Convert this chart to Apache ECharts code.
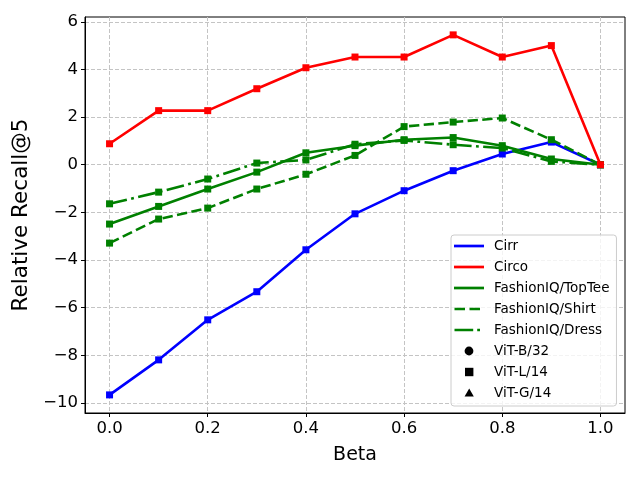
<!DOCTYPE html>
<html>
<head>
<meta charset="utf-8">
<script src="https://cdn.jsdelivr.net/npm/echarts@6/dist/echarts.min.js"></script>
<style>html,body{margin:0;padding:0;background:#fff}#c{width:640px;height:480px}</style>
</head>
<body>
<div id="c"></div>
<script>
const beta = [0.0, 0.1, 0.2, 0.3, 0.4, 0.5, 0.6, 0.7, 0.8, 0.9, 1.0];
const cirr = [-9.66, -8.19, -6.51, -5.33, -3.57, -2.06, -1.09, -0.25, 0.45, 0.95, 0.0];
const circo = [0.88, 2.27, 2.27, 3.19, 4.07, 4.52, 4.52, 5.45, 4.52, 5.0, 0.0];
const topTee = [-2.49, -1.75, -1.02, -0.31, 0.50, 0.80, 1.05, 1.14, 0.80, 0.24, 0.0];
const shirt = [-3.29, -2.28, -1.82, -1.02, -0.40, 0.39, 1.60, 1.79, 1.96, 1.05, 0.0];
const dress = [-1.64, -1.15, -0.60, 0.07, 0.20, 0.86, 1.02, 0.84, 0.70, 0.14, 0.0];
const xTicks = [0.0, 0.2, 0.4, 0.6, 0.8, 1.0];
const yTicks = [-10, -8, -6, -4, -2, 0, 2, 4, 6];

const FONT = 'DejaVu Sans';
const pair = arr => beta.map((b, i) => [b, arr[i]]);
const mkLine = (name, data, color, type, z) => ({
  name, type: 'line', data: pair(data), color,
  symbol: 'rect', symbolSize: 7, showAllSymbol: true, z,
  lineStyle: { width: 2.6, type, color }, itemStyle: { color },
  emphasis: { disabled: true }
});
const dummy = (name) => ({ name, type: 'line', data: [], color: '#000', itemStyle: { color: '#000' } });

const chart = echarts.init(document.getElementById('c'), null, { renderer: 'canvas' });
chart.setOption({
  animation: false,
  backgroundColor: '#fff',
  grid: { left: 85, top: 17, right: 15, bottom: 67, show: true, borderColor: '#000', borderWidth: 1, backgroundColor: 'transparent' },
  xAxis: {
    type: 'value', min: -0.05, max: 1.05,
    name: 'Beta', nameLocation: 'middle', nameGap: 33,
    nameTextStyle: { fontFamily: FONT, fontSize: 19, color: '#000' },
    axisLine: { show: true, onZero: false, lineStyle: { color: '#000', width: 1 } },
    axisTick: { show: true, inside: false, length: 4, customValues: xTicks, lineStyle: { color: '#000' } },
    axisLabel: { customValues: xTicks, margin: 7, fontFamily: FONT, fontSize: 16.5, color: '#000',
      formatter: v => Number(v).toFixed(1) },
    splitLine: { show: true, lineStyle: { color: '#c4c4c4', width: 1, type: [4, 2] } }
  },
  yAxis: {
    type: 'value', min: -10.42, max: 6.2,
    name: 'Relative Recall@5', nameLocation: 'middle', nameGap: 44,
    nameTextStyle: { fontFamily: FONT, fontSize: 21.5, color: '#000' },
    axisLine: { show: true, onZero: false, lineStyle: { color: '#000', width: 1 } },
    axisTick: { show: true, inside: false, length: 4, customValues: yTicks, lineStyle: { color: '#000' } },
    axisLabel: { customValues: yTicks, margin: 7, fontFamily: FONT, fontSize: 16.5, color: '#000',
      formatter: v => String(Math.round(v)).replace('-', '\u2212') },
    splitLine: { show: true, lineStyle: { color: '#c4c4c4', width: 1, type: [4, 2] } }
  },
  legend: {
    orient: 'vertical', left: 451, top: 235,
    padding: [4, 7, 6, 3], itemGap: 7, itemWidth: 35, itemHeight: 14,
    backgroundColor: 'rgba(255,255,255,0.8)', borderColor: '#cccccc', borderWidth: 1, borderRadius: 3,
    itemStyle: { borderWidth: 0 },
    textStyle: { fontFamily: FONT, fontSize: 13.5, color: '#000', lineHeight: 14 },
    selectedMode: false,
    data: [
      { name: 'Cirr', icon: 'path://M0,0M35,14M0,5.65h30v2.7h-30z' },
      { name: 'Circo', icon: 'path://M0,0M35,14M0,5.65h30v2.7h-30z' },
      { name: 'FashionIQ/TopTee', icon: 'path://M0,0M35,14M0,5.65h30v2.7h-30z' },
      { name: 'FashionIQ/Shirt', icon: 'path://M0,0M35,14M0.5,5.65h10.5v2.7h-10.5zM15.5,5.65h10.5v2.7h-10.5z' },
      { name: 'FashionIQ/Dress', icon: 'path://M0,0M35,14M0.5,5.65h18.7v2.7h-18.7zM23.2,5.65h2.8v2.7h-2.8z' },
      { name: 'ViT-B/32', icon: 'path://M0,0M35,14M19.4,7A4.4,4.4,0,1,1,10.6,7A4.4,4.4,0,1,1,19.4,7z' },
      { name: 'ViT-L/14', icon: 'path://M0,0M35,14M11,2.8h8.4v8.4h-8.4z' },
      { name: 'ViT-G/14', icon: 'path://M0,0M35,14M15.2,2.4L19.8,10.6L10.6,10.6z' }
    ]
  },
  series: [
    mkLine('Cirr', cirr, '#0000ff', 'solid', 2),
    mkLine('FashionIQ/TopTee', topTee, '#008000', 'solid', 3),
    mkLine('FashionIQ/Shirt', shirt, '#008000', [10.3, 4.4], 3),
    mkLine('FashionIQ/Dress', dress, '#008000', [17.8, 4.4, 2.8, 4.4], 3),
    mkLine('Circo', circo, '#ff0000', 'solid', 4),
    dummy('ViT-B/32'), dummy('ViT-L/14'), dummy('ViT-G/14')
  ]
});
</script>
</body>
</html>
